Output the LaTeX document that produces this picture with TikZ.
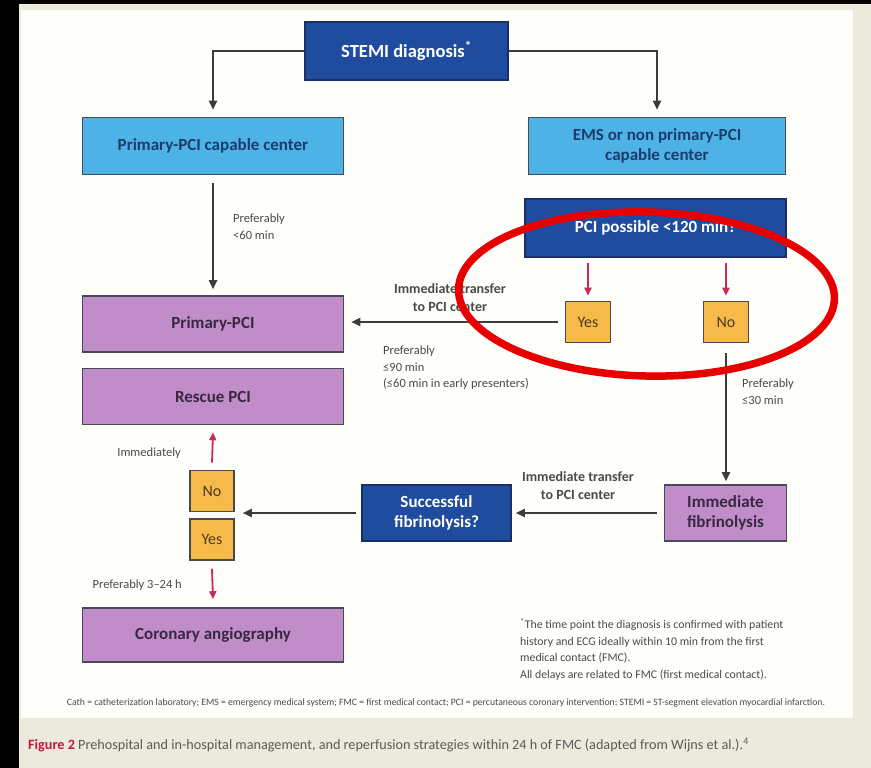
\documentclass[tikz,border=0pt]{standalone}
\usepackage{fontspec}
\setmainfont{Carlito}
\usetikzlibrary{arrows.meta}
\definecolor{beige}{HTML}{ECEADC}
\definecolor{panel}{HTML}{FEFEFB}
\definecolor{dkblue}{HTML}{1F4C9E}
\definecolor{dkline}{HTML}{1A2F66}
\definecolor{ltblue}{HTML}{4DB2E6}
\definecolor{lttext}{HTML}{1D3C6B}
\definecolor{purp}{HTML}{C08DC8}
\definecolor{ptext}{HTML}{3A2744}
\definecolor{orng}{HTML}{F5BA4A}
\definecolor{ytext}{HTML}{4A3A20}
\definecolor{boxline}{HTML}{4A4A55}
\definecolor{arrgray}{HTML}{3C3C3C}
\definecolor{redarr}{HTML}{C82A5C}
\definecolor{lblgray}{HTML}{4A4A4A}
\definecolor{ellred}{HTML}{E60000}
\definecolor{figred}{HTML}{C4163E}
\definecolor{capgray}{HTML}{5A5A5A}
\begin{document}
\begin{tikzpicture}[x=1pt,y=-1pt,
  box/.style={draw=boxline,line width=1.6pt,inner sep=2pt,align=center,
    font=\fontsize{17}{20}\selectfont\bfseries},
  dbox/.style={box,fill=dkblue,draw=dkline,text=white},
  lbox/.style={box,fill=ltblue,text=lttext},
  pbox/.style={box,fill=purp,text=ptext},
  ynbox/.style={box,fill=orng,text=ytext,minimum width=45pt,minimum height=41pt,
    font=\fontsize{16}{18}\selectfont},
  arr/.style={draw=arrgray,line width=1.8pt,-{Triangle[length=9pt,width=8pt]}},
  rarr/.style={draw=redarr,line width=1.8pt,-{Triangle[length=8pt,width=7pt]}},
  lbl/.style={font=\fontsize{12.5}{16.5}\selectfont,text=lblgray,align=left,inner sep=0pt},
  blbl/.style={font=\fontsize{14}{18}\selectfont\bfseries,text=lblgray,align=center,inner sep=0pt}
]
% background
\fill[beige] (0,0) rectangle (871,768);
\fill[panel] (21,10) rectangle (853,718);
\fill[black] (0,0) rectangle (19,768);
\fill[black] (0,0) rectangle (871,4);
\useasboundingbox (0,0) rectangle (871,768);

% boxes
\node[dbox,minimum width=203pt,minimum height=58pt,font=\fontsize{18.5}{21}\selectfont\bfseries] (stemi) at (406.5,51) {STEMI diagnosis\textsuperscript{*}};
\node[lbox,minimum width=261pt,minimum height=57pt] (ppcc) at (213,146) {Primary-PCI capable center};
\node[lbox,minimum width=257pt,minimum height=57pt] (ems) at (657,146) {EMS or non primary-PCI\\capable center};
\node[dbox,minimum width=261pt,minimum height=58pt] (pcipos) at (655.5,228) {PCI possible <120 min?};
\node[ynbox] (yes1) at (588,322) {Yes};
\node[ynbox] (no1) at (726,322) {No};
\node[pbox,minimum width=261pt,minimum height=56pt] (ppci) at (213,324) {Primary-PCI};
\node[pbox,minimum width=261pt,minimum height=56pt] (rescue) at (213,396.5) {Rescue PCI};
\node[pbox,minimum width=122pt,minimum height=56pt] (fib) at (725.5,513) {Immediate\\fibrinolysis};
\node[dbox,minimum width=149pt,minimum height=56pt] (succ) at (436.5,513) {Successful\\fibrinolysis?};
\node[ynbox,minimum width=44pt] (no2) at (212,491) {No};
\node[ynbox,minimum width=44pt] (yes2) at (212,539.5) {Yes};
\node[pbox,minimum width=261pt,minimum height=54pt] (cor) at (213,635) {Coronary angiography};

% connectors
\draw[arr] (stemi.west) -| ([yshift=7pt]ppcc.north);
\draw[arr] (stemi.east) -| ([yshift=7pt]ems.north);
\draw[arr] ([yshift=-8pt]ppcc.south) -- ([yshift=6pt]ppci.north);
\draw[rarr] (yes1.north |- pcipos.south) ++(0,5) -- ([yshift=5pt]yes1.north);
\draw[rarr] (no1.north |- pcipos.south) ++(0,5) -- ([yshift=5pt]no1.north);
\draw[arr] ([xshift=-7pt]yes1.west) -- ([xshift=7pt]yes1.west -| ppci.east);
\draw[arr] ([yshift=-10pt]no1.south) -- ([yshift=3pt]no1.south |- fib.north);
\draw[arr] ([xshift=-7pt]fib.west) -- ([xshift=4pt]succ.east);
\draw[arr] ([xshift=-5pt]succ.west) -- ([xshift=8pt]succ.west -| no2.east);
\draw[rarr] ([yshift=7pt]no2.north) -- ([yshift=-7pt]rescue.south);
\draw[rarr] ([yshift=-8pt]yes2.south) -- ([yshift=8pt]cor.north);

% labels
\node[lbl,anchor=north west] (l60) at (233,214) {Preferably\\<60 min};
\node[blbl] (lt1) at (450,298) {Immediate transfer\\to PCI center};
\node[lbl,anchor=north west] (l90) at (383,346) {Preferably\\≤90 min\\(≤60 min in early presenters)};
\node[lbl,anchor=north west] (l30) at (742,379) {Preferably\\≤30 min};
\node[blbl] (lt2) at (578,486) {Immediate transfer\\to PCI center};
\node[lbl,anchor=east] (limm) at (181,453) {Immediately};
\node[lbl,anchor=east] (l324) at (182,585) {Preferably 3–24 h};
\node[lbl,anchor=north west,font=\fontsize{11.8}{16.7}\selectfont] (foot) at (520,618) {\textsuperscript{*}The time point the diagnosis is confirmed with patient\\history and ECG ideally within 10 min from the first\\medical contact (FMC).\\All delays are related to FMC (first medical contact).};
\node[lbl,anchor=center] (abbr) at (446,703) {\resizebox{758pt}{!}{\fontsize{8}{10}\selectfont Cath = catheterization laboratory; EMS = emergency medical system; FMC = first medical contact; PCI = percutaneous coronary intervention; STEMI = ST-segment elevation myocardial infarction.}};
\node[anchor=west,inner sep=0pt,font=\fontsize{14.2}{16}\selectfont,text=capgray] (cap) at (28,745) {{\color{figred}\bfseries Figure 2}\ Prehospital and in-hospital management, and reperfusion strategies within 24 h of FMC (adapted from Wijns et al.).\textsuperscript{4}};

% highlight ellipse
\draw[ellred,line width=7.5pt,rotate around={-1.5:(646.5,294)}] (646.5,294) ellipse [x radius=188pt,y radius=82pt];
\end{tikzpicture}
\end{document}
